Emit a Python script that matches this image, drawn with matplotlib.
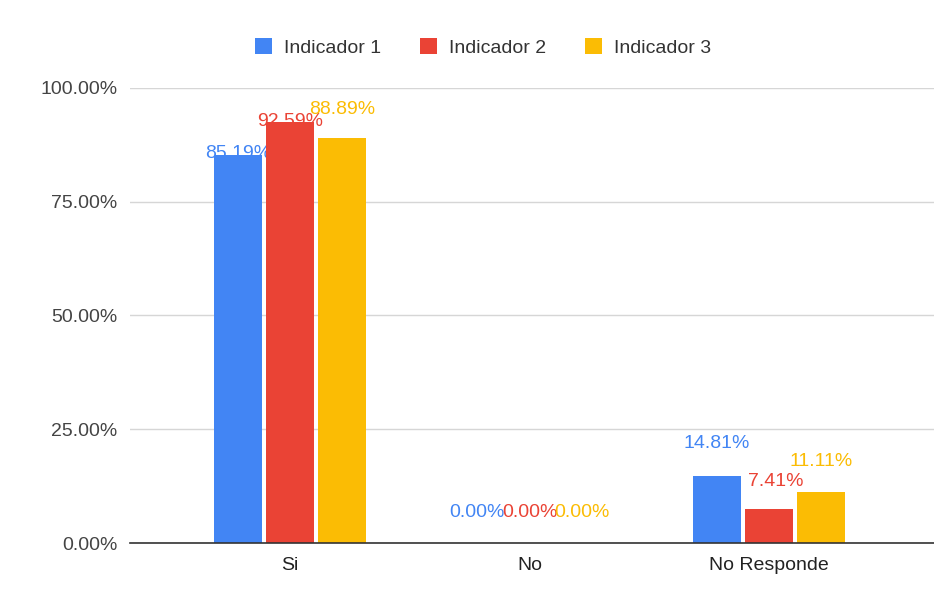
import matplotlib.pyplot as plt
import numpy as np

categories = ["Si", "No", "No Responde"]
series = ["Indicador 1", "Indicador 2", "Indicador 3"]
ind1 = [85.19, 0.00, 14.81]
ind2 = [92.59, 0.00, 7.41]
ind3 = [88.89, 0.00, 11.11]
colors = ["#4285F4", "#EA4335", "#FBBC04"]

# label offsets per series/category (dx, dy in points), like the original placement
label_offsets = [
    [(0, 1), (0, 22), (0, 23)],
    [(0, 0), (0, 22), (5, 20)],
    [(0, 21), (0, 22), (0, 22)],
]

plt.rcParams['font.family'] = ['Liberation Sans', 'DejaVu Sans']

fig = plt.figure(figsize=(9.34, 5.91), dpi=100)
ax = fig.add_axes([0.139, 0.0812, 0.861, 0.770])

x = np.arange(len(categories))
w = 0.2
step = 0.218
for i, (vals, name, c) in enumerate(zip([ind1, ind2, ind3], series, colors)):
    pos = x + (i - 1) * step
    ax.bar(pos, vals, width=w, color=c, label=name, zorder=3)
    for j, v in enumerate(vals):
        dx, dy = label_offsets[i][j]
        ax.annotate(f"{v:.2f}%", (pos[j], v), xytext=(dx, dy),
                    textcoords="offset points", ha="center", va="center",
                    color=c, fontsize=14)

ax.set_xlim(-0.67, 2.69)
ax.set_ylim(0, 100)
ax.set_yticks([0, 25, 50, 75, 100])
ax.set_yticklabels([f"{t:.2f}%" for t in [0, 25, 50, 75, 100]], fontsize=14, color="#444444")
ax.set_xticks(x)
ax.set_xticklabels(categories, fontsize=14, color="#222222")
ax.tick_params(axis="both", length=0)
ax.tick_params(axis="y", pad=9)
ax.tick_params(axis="x", pad=10)
ax.grid(axis="y", color="#d6d6d6", linewidth=1, zorder=0)
for s in ["top", "right", "left"]:
    ax.spines[s].set_visible(False)
ax.spines["bottom"].set_color("#333333")
ax.spines["bottom"].set_linewidth(1.2)
ax.spines["bottom"].set_zorder(4)

fig.legend(loc="center", bbox_to_anchor=(0.517, 0.920), ncol=3, frameon=False,
           fontsize=14, handlelength=0.9, handleheight=0.9, handletextpad=0.6,
           columnspacing=2.0, labelcolor="#333333")

fig.savefig("out.png", dpi=100)
